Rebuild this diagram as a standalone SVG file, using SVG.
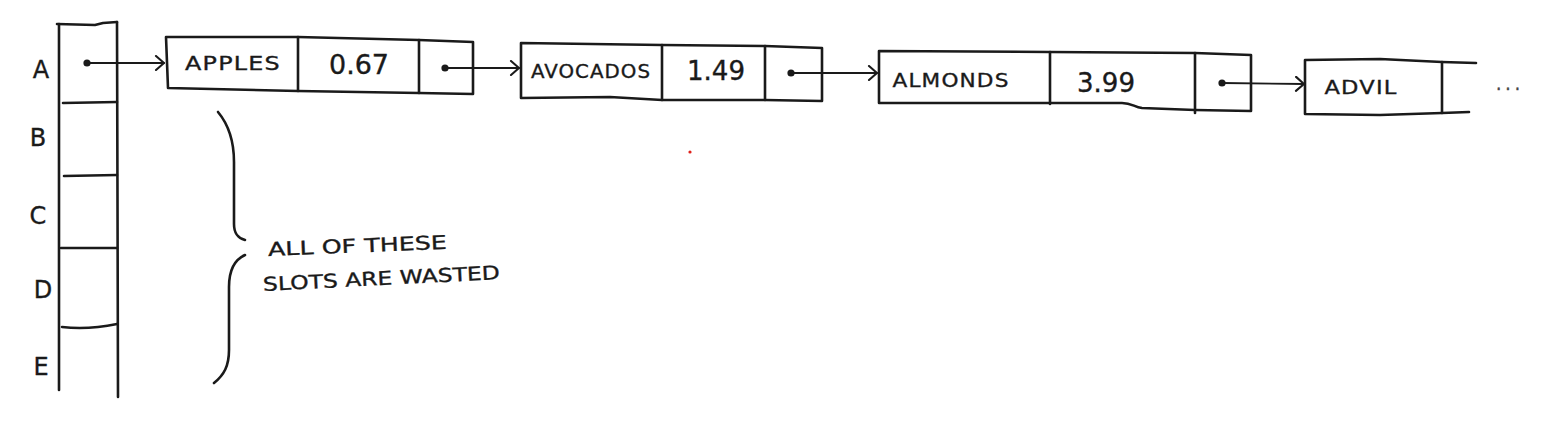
<svg xmlns="http://www.w3.org/2000/svg" width="1564" height="442" viewBox="0 0 1564 442">
<defs>
<style>
.ln{fill:none;stroke:#1a1a1a;stroke-width:2.6;stroke-linecap:round;stroke-linejoin:round}
.thin{fill:none;stroke:#1a1a1a;stroke-width:1.9;stroke-linecap:round}
.dot{fill:#1a1a1a}
.t{font-family:"DejaVu Sans","Liberation Sans",sans-serif;fill:#1a1a1a;stroke:#1a1a1a;stroke-width:0.35;text-anchor:middle;dominant-baseline:central}
.lbl{font-size:24px}
.nm{font-size:19px;letter-spacing:1px}
.num{font-size:26px}
.note{font-size:19px;text-anchor:start}
</style>
<marker id="arr" markerUnits="userSpaceOnUse" markerWidth="14" markerHeight="16" refX="11" refY="8" orient="auto">
<path d="M3,1 L11,8 L3,15" fill="none" stroke="#1a1a1a" stroke-width="2.1" stroke-linecap="round" stroke-linejoin="round"/>
</marker>
</defs>
<rect width="1564" height="442" fill="#ffffff"/>

<g id="array">
<path class="ln" d="M59,24 L59,390"/>
<path class="ln" d="M117,22 L117.5,200 L118,397"/>
<path class="ln" d="M57,24 L95,25 L103,23 L117,22"/>
<path class="ln" d="M63,103 L117,102"/>
<path class="ln" d="M64,176 L117,175"/>
<path class="ln" d="M61,248 L117,248"/>
<path class="ln" d="M62,327 Q88,330 117,324"/>
<text class="t lbl" x="41" y="70">A</text>
<text class="t lbl" x="38" y="138">B</text>
<text class="t lbl" x="38" y="216">C</text>
<text class="t lbl" x="43" y="290">D</text>
<text class="t lbl" x="41" y="367">E</text>
<circle class="dot" cx="87" cy="63" r="3.6"/>
</g>

<g id="node-apples">
<path class="ln" d="M166,37 L298,37 L419,40 L473,42 L473,94 L419,93 L298,91 L168,88 Z"/>
<path class="ln" d="M298,37 L298,91"/>
<path class="ln" d="M419,40 L419,93"/>
<text class="t nm" x="233" y="63" textLength="96" lengthAdjust="spacingAndGlyphs">APPLES</text>
<text class="t num" x="359" y="65" textLength="60" lengthAdjust="spacingAndGlyphs">0.67</text>
<circle class="dot" cx="445" cy="68" r="3.6"/>
</g>

<g id="node-avocados">
<path class="ln" d="M521,43 L662,45 L765,46 L822,48 L822,101 L765,100 L662,100 L610,97 L521,98 Z"/>
<path class="ln" d="M662,45 L662,100"/>
<path class="ln" d="M765,46 L765,100"/>
<text class="t nm" x="591" y="71" textLength="120" lengthAdjust="spacingAndGlyphs">AVOCADOS</text>
<text class="t num" x="716" y="71" textLength="58" lengthAdjust="spacingAndGlyphs">1.49</text>
<circle class="dot" cx="791" cy="73" r="3.6"/>
</g>

<g id="node-almonds">
<path class="ln" d="M879,51 L1050,52 L1195,53 L1251,55 L1251,111 L1195,110 L1142,108 C1134,107 1132,103 1122,103 L1050,103 L879,103 Z"/>
<path class="ln" d="M1050,52 L1050,104"/>
<path class="ln" d="M1195,53 L1195,113"/>
<text class="t nm" x="951" y="80" textLength="117" lengthAdjust="spacingAndGlyphs">ALMONDS</text>
<text class="t num" x="1106" y="83" textLength="58" lengthAdjust="spacingAndGlyphs">3.99</text>
<circle class="dot" cx="1222" cy="83" r="3.6"/>
</g>

<g id="node-advil">
<path class="ln" d="M1476,63 L1442,62 L1380,59 L1305,60 L1305,114 L1380,115 L1442,113 L1469,112"/>
<path class="ln" d="M1442,62 L1442,113"/>
<text class="t nm" x="1361" y="87" textLength="73" lengthAdjust="spacingAndGlyphs">ADVIL</text>
<text class="t" x="1510" y="84" style="font-size:17px;letter-spacing:4px;fill:#444;stroke:#444">...</text>
</g>

<g id="connectors">
<path class="thin" d="M87,63 L164,63" marker-end="url(#arr)"/>
<path class="thin" d="M445,68 L519,68" marker-end="url(#arr)"/>
<path class="thin" d="M791,73 L877,73" marker-end="url(#arr)"/>
<path class="thin" d="M1222,83 L1304,84" marker-end="url(#arr)"/>
</g>

<g id="annotation">
<path class="ln" d="M218,112 C228,124 234,140 234,162 L234,224 C234,234 238,238 245,240"/>
<path class="ln" d="M245,255 C236,259 229,268 229,287 L229,350 C229,366 224,375 214,383"/>
<text class="t note" x="268" y="249" transform="rotate(-2.3 268 249)" textLength="179" lengthAdjust="spacingAndGlyphs">ALL OF THESE</text>
<text class="t note" x="263" y="284" transform="rotate(-2.9 263 284)" textLength="237" lengthAdjust="spacingAndGlyphs">SLOTS ARE WASTED</text>
</g>

<circle cx="690" cy="152" r="1.6" fill="#e0201a"/>
</svg>
